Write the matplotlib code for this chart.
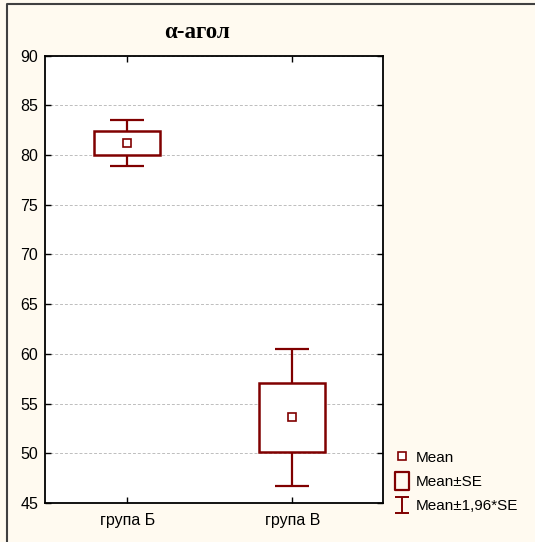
import matplotlib.pyplot as plt
from matplotlib.lines import Line2D
from matplotlib.path import Path

groups = ['група Б', 'група В']
means = [81.2, 53.6]
se = [1.17, 3.5]
ci_factor = 1.96

dark_red = '#800000'

plt.rcParams['font.family'] = ['Liberation Sans', 'DejaVu Sans']

fig = plt.figure(figsize=(5.35, 5.42), dpi=100, facecolor='#FFFAF0')
ax = fig.add_axes([45/535, 1 - 503/542, 338/535, 447.5/542])

pos = list(range(len(groups)))
lo = [m - s for m, s in zip(means, se)]
ci = [ci_factor * s for s in se]

ax.errorbar(pos, means, yerr=ci, fmt='none', ecolor=dark_red, elinewidth=1.6,
            capsize=12, capthick=1.6, zorder=2)
ax.bar(pos, [2 * s for s in se], bottom=lo, width=0.40, facecolor='white',
       edgecolor=dark_red, linewidth=1.8, zorder=3)
ax.plot(pos, means, ls='none', marker='s', ms=6, mfc='white', mec=dark_red,
        mew=1.2, zorder=4)

ax.set_xlim(-0.5, 1.55)
ax.set_ylim(45, 90)
ax.set_yticks(range(45, 91, 5))
ax.set_xticks(pos)
ax.set_xticklabels(groups)
ax.yaxis.grid(True, ls=(0, (3, 2)), color='#bdbdbd', lw=0.7)
ax.set_axisbelow(True)
ax.tick_params(direction='in', top=True, right=True, length=4, labelsize=11.5,
               width=1, pad=5)
ax.tick_params(axis='x', labelsize=11.5, pad=7)
for sp in ax.spines.values():
    sp.set_linewidth(1.3)

# legend proxies
ibeam = Path([(-0.85, -1), (0.85, -1), (0, -1), (0, 1), (-0.85, 1), (0.85, 1)],
             [Path.MOVETO, Path.LINETO, Path.MOVETO, Path.LINETO, Path.MOVETO, Path.LINETO])
rect = Path([(-0.8, -1), (0.8, -1), (0.8, 1), (-0.8, 1), (-0.8, -1)],
            [Path.MOVETO, Path.LINETO, Path.LINETO, Path.LINETO, Path.CLOSEPOLY])
h_mean = Line2D([], [], ls='none', marker='s', ms=6, mfc='white', mec=dark_red, mew=1.2)
h_se = Line2D([], [], ls='none', marker=rect, ms=12.5, mfc='none', mec=dark_red, mew=1.6)
h_ci = Line2D([], [], ls='none', marker=ibeam, ms=11.5, mfc='none', mec=dark_red, mew=1.4)
ax.legend([h_mean, h_se, h_ci], ['Mean', 'Mean±SE', 'Mean±1,96*SE'],
          loc='lower left', bbox_to_anchor=(1.03, -0.023),
          frameon=False, fontsize=11, handlelength=1.2, handletextpad=0.3,
          labelspacing=0.68, borderaxespad=0, borderpad=0)

fig.text(197/535, 1 - 33/542, 'α-агол', ha='center', va='center',
         family='Liberation Serif', weight='bold', fontsize=16.5)

fig.add_artist(Line2D([7/535, 7/535, 1], [0, 1 - 4/542, 1 - 4/542],
                      transform=fig.transFigure, color='#404040', lw=1.5))

fig.savefig('out.png', dpi=100, facecolor=fig.get_facecolor())
